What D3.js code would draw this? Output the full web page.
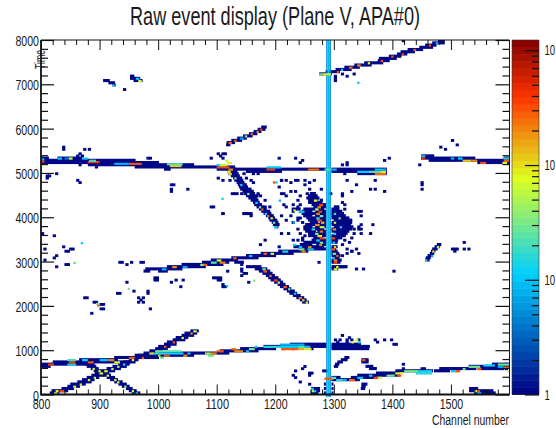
<!DOCTYPE html>
<html>
<head>
<meta charset="utf-8">
<script src="https://cdn.jsdelivr.net/npm/d3@7"></script>
<style>
  html, body { margin: 0; padding: 0; background: #fff; overflow: hidden; }
  text { font-family: "Liberation Sans", sans-serif; fill: #1a1a1a; }
</style>
</head>
<body>
<div id="my_dataviz"></div>
<script>
// tick labels
var channelTicks = [800, 900, 1000, 1100, 1200, 1300, 1400, 1500];
var timeTicks = [0, 1000, 2000, 3000, 4000, 5000, 6000, 7000, 8000];
var adcLabels = [[1, "1"], [10, "10"], [100, "10"], [1000, "10"]];

// low adc runs: [time, channel from, channel to]
var topRightTrack = [[7200,1275,1295],[7250,1286,1309],[7300,1303,1329],[7350,1318,1343],[7400,1335,1363],[7450,1352,1383],[7500,1375,1394],[7550,1377,1406],[7600,1394,1414],[7650,1408,1424],[7700,1414,1437],[7750,1426,1451],[7800,1446,1468],[7850,1456,1474],[7900,1468,1488],[7950,1478,1488]];
var upperMidTrack = [[5600,1116,1122],[5650,1117,1130],[5700,1125,1142],[5750,1135,1150],[5800,1145,1160],[5850,1155,1168],[5900,1163,1175],[5950,1170,1182],[6000,1176,1184]];
var smallTracks = [[7150,952,958],[7100,952,968],[7050,958,972],[7050,906,916],[7000,915,925],[6950,922,926]];
var line5200 = [[5300,800,812],[5300,828,870],[5250,800,960],[5200,800,1000],[5150,880,1060],[5100,960,1130],[5050,1010,1020],[5050,1100,1286],[5000,1150,1210],[5050,1296,1389],[5000,1296,1389],[4950,1340,1389]];
var line5400 = [[5350,1449,1470],[5300,1449,1540],[5250,1462,1530],[5250,1530,1600],[5200,1545,1600],[5300,1590,1600]];
var diagonalDown = [[5050,1118,1132],[5000,1118,1134],[4950,1120,1136],[4900,1124,1138],[4850,1128,1142],[4800,1130,1144],[4750,1134,1146],[4700,1136,1150],[4650,1138,1152],[4600,1140,1158],[4550,1144,1162],[4500,1146,1164],[4450,1150,1170],[4400,1154,1168],[4350,1158,1170],[4300,1162,1172],[4250,1164,1176],[4200,1168,1180],[4150,1172,1184],[4100,1176,1190],[4050,1180,1192],[4000,1184,1196],[3950,1188,1198],[3900,1190,1202],[3850,1194,1204],[3800,1196,1206],[3750,1198,1204]];
var track3000 = [[2750,975,985],[2750,1000,1015],[2800,978,1040],[2850,1015,1080],[2900,1040,1110],[2950,1075,1120],[2950,1130,1145],[3000,1090,1135],[3050,1125,1170],[3100,1150,1200],[3150,1175,1230],[3200,1205,1255],[3250,1240,1285]];
var diagonal2400 = [[2850,1150,1175],[2800,1165,1185],[2750,1172,1190],[2700,1178,1194],[2650,1184,1198],[2600,1188,1204],[2550,1192,1208],[2500,1198,1212],[2450,1204,1216],[2400,1208,1222],[2350,1214,1226],[2300,1220,1232],[2250,1224,1236],[2200,1230,1242],[2150,1236,1248],[2100,1242,1252],[2050,1246,1256]];
var line800 = [[600,800,815],[650,800,880],[700,820,880],[700,880,950],[750,865,930],[800,925,1000],[850,960,1060],[900,1000,1120],[950,1105,1170],[1000,1140,1200],[1050,1180,1286],[1100,1225,1286],[1050,1296,1360],[1100,1296,1345],[1000,1296,1359]];
var diagonalUp = [[0,815,830],[50,818,845],[100,835,855],[150,845,865],[200,850,875],[250,862,885],[300,870,890],[350,878,898],[400,886,905],[450,892,915],[500,905,925],[550,912,935],[600,922,945],[650,932,950],[700,940,960],[750,950,965],[800,955,975],[850,965,990],[900,975,995],[950,985,1005],[1000,995,1015],[1050,1000,1020],[1100,1010,1030],[1150,1015,1030],[1200,1025,1045],[1250,1030,1050],[1300,1040,1060],[1350,1045,1065],[1400,1055,1068]];
var diagonalCross = [[650,875,890],[600,878,893],[550,885,897],[500,890,905],[450,895,912],[400,905,918],[350,912,925],[300,918,930],[250,925,938],[200,932,945],[150,938,950],[100,945,955],[50,950,962],[0,955,968]];
var line400 = [[300,1296,1343],[350,1296,1310],[350,1329,1372],[400,1340,1411],[450,1372,1411],[500,1405,1468],[500,1471,1497],[550,1480,1542],[600,1530,1599],[550,1551,1590],[650,1570,1599]];
var bottomBlobs = [[50,1531,1571],[0,1540,1575],[100,1531,1545],[50,1261,1275],[100,1261,1275],[0,1261,1272],[150,1347,1353],[100,1346,1352],[200,1347,1356],[650,1302,1308],[700,1306,1314],[750,1312,1322],[800,1318,1325],[600,1300,1306],[700,1347,1358],[750,1347,1358],[600,1354,1366],[550,1360,1372],[0,1283,1285],[100,1283,1285],[200,1283,1285],[0,1296,1298],[100,1296,1298],[200,1296,1298]];
var blobRows = [[4500,1259,1268],[4450,1256,1271],[4400,1253,1274],[4350,1256,1272],[4350,1276,1280],[4300,1256,1279],[4250,1262,1285],[4200,1265,1285],[4200,1300,1308],[4150,1228,1242],[4150,1248,1282],[4150,1296,1308],[4100,1245,1262],[4100,1268,1285],[4100,1296,1313],[4050,1245,1285],[4050,1296,1316],[4000,1248,1262],[4000,1268,1285],[4000,1296,1319],[3950,1253,1285],[3950,1296,1325],[3900,1256,1270],[3900,1276,1285],[3900,1300,1330],[3850,1259,1272],[3850,1276,1285],[3850,1296,1330],[3800,1251,1285],[3800,1296,1328],[3750,1248,1262],[3750,1268,1285],[3750,1300,1332],[3700,1248,1282],[3700,1296,1330],[3650,1251,1268],[3650,1272,1285],[3650,1296,1325],[3600,1256,1285],[3600,1300,1322],[3550,1256,1285],[3550,1296,1319],[3500,1265,1280],[3500,1296,1313],[3450,1262,1285],[3450,1296,1306],[3400,1248,1285],[3400,1296,1305],[3350,1242,1262],[3350,1270,1285],[3300,1231,1282],[3300,1296,1305],[3250,1296,1302],[3200,1296,1305],[3150,1296,1308],[3100,1296,1310],[3050,1298,1308],[3000,1296,1312],[2950,1296,1310],[2850,1296,1322],[2800,1296,1306]];
var rightDiagonal = [[3000,1456,1462],[3050,1457,1464],[3100,1460,1468],[3150,1464,1470],[3200,1466,1472],[3250,1468,1476],[3300,1472,1480],[3350,1476,1482]];

// single low adc cells: [time, channel]
var scatterCells = [[4856,1100],[4841,1111],[4804,1123],[4992,1145],[5029,1154],[4992,1160],[4954,1171],[4879,1148],[4841,1157],[4766,1162],[4691,1205],[4804,1211],[4804,1219],[4540,1208],[4465,1219],[4578,1234],[4804,1239],[4804,1248],[4841,1265],[4616,1259],[4465,1242],[4277,1228],[4127,1231],[4240,1239],[4240,1219],[4277,1214],[4202,1191],[4352,1182],[4202,1180],[4465,1174],[4540,1168],[4014,1248],[3976,1236],[3939,1219],[4014,1208],[4052,1146],[4052,1150],[4052,1154],[4052,1158],[4503,1140],[4503,1128],[4052,1108],[3488,1182],[3375,1174],[3337,1205],[3638,1208],[3600,1222],[3488,1228],[3450,1236],[3525,1245],[3713,1239],[3864,1231],
  [3826,1346],[3826,1365],[3713,1346],[3638,1363],[3638,1346],[3713,1332],[3299,1338],[3224,1329],[3149,1312],[3186,1323],[2848,1338],[2825,1349],[2870,1311],[2870,1315],[2870,1319],[2795,1400],[3299,1500],[3299,1505],[3299,1511],[3247,1505],[3412,1521],[3277,1521],[3277,1529],[2961,1272],
  [3638,801],[3577,820],[3262,807],[3149,824],[3074,820],[3000,804],[2886,824],[2946,841],[2946,846],[3337,838],[3224,847],[3224,843],[3299,852],[3280,848],[2961,932],[2940,945],[2961,955],[2961,975],[2990,936],[2990,968],[2510,946],[2322,958],[2284,929],[2284,933],[2284,983],[2334,983],[2134,969],[2171,965],[2171,973],[2095,965],[2095,973],[1946,984],[2171,875],[2171,879],[2096,892],[2096,888],[2021,906],[2021,902],[1908,903],[1908,907],[1810,884],
  [2562,995],[2562,999],[2610,995],[2610,999],[2547,1020],[2585,1028],[2585,1042],[2420,1037],[2622,1094],[2622,1098],[2622,1102],[2622,1106],[2575,1100],[2575,1104],[2420,1108],[2420,1112],[2470,1110],[2848,1140],[2760,1140],[2660,1142],[2900,1140],[2710,1146],[2547,1154],[2750,1118],[2700,1150],
  [5558,838],[5505,838],[5505,872],[5520,881],[5407,864],[5357,868],[5357,860],[5309,983],[5309,987],[4918,810],[4918,814],[4978,824],[4870,810],[4820,862],[4770,864],[4730,1023],[4730,1027],[4580,1022],[4630,1022],[4633,1049],[4204,1091],[4204,1095],[4050,1108],[4050,1145],[4050,1149],[4050,1153],[4000,1157],[4505,1125],[4505,1133],[5106,892],[5154,864],[5309,1088],[5400,1100],[5350,1105],[5309,1110],[5420,1108],[5420,1114],[5160,1320],[5210,1320],[5170,1314],[4843,1369],[5160,1446],[5573,1480],[5545,1488],[5708,1503],[5633,1509],[4753,1451],[4700,1451],[4618,1450],[5317,1392],[5280,1386],[7964,1417],[4957,1318],[5204,1241],[5300,1232],[5250,1246],[5300,1206],[4843,1320],[4714,1337],[4618,1363],[4618,1370],[4580,1384],[4542,1295],[4542,1315],[4580,1329],[4618,1278],[4768,1258],[4720,1250],[4806,1235],[4760,1224],[4806,1209],[4500,1255],[4580,1226],[4540,1212],[4130,1340],[4031,1346],[4130,1346],[4450,1312],[4166,1318],
  [7062,1301],[7110,1301],[7235,1335],[7212,1312],[7160,1320],[6850,940],[7170,1300],
  [1200,1300],[1200,1310],[1200,1320],[1200,1330],[1200,1340],[1150,1305],[1150,1320],[1320,1314],[1270,1325],[1230,1370],[1170,1375],[1230,1385],[1230,1397],[1118,1400],[1118,1404],[1000,1214],[1000,1228],[1000,1260],[1090,1222],
  [515,1233],[550,1247],[620,1250],[400,1258],[455,1256],[455,1262],[400,1230],[365,1235],[255,1242],[210,1256],[540,1282],[540,1285],[590,1417],[650,1417],[570,1451],[590,1455],[650,1594],[560,1594],
  [4250,1240],[4350,1236],[4000,1226],[3950,1240],[3900,1236],[3850,1244],[3600,1240],[3550,1248],[3450,1244],[4300,1312],[4250,1318],[3750,1340],[3700,1340],[3600,1334],[3500,1328],[3450,1318],[3400,1326],[3350,1312],[3250,1320],[3200,1330],[3150,1340]];

// hot cells: [time, channel from, channel to, adc]
var hotCells = [
  [5230,800,806,400],[5280,800,806,8],[5300,828,836,10],[5300,840,850,4],[5300,848,854,70],[5300,870,880,12],[5220,880,900,350],[5250,882,894,20],[5180,950,972,300],[5180,925,950,8],[5130,1020,1040,120],[5170,1015,1042,25],[5100,1100,1122,350],[5150,1100,1112,10],[5150,1105,1118,60],[5050,1185,1200,400],[5100,1185,1210,10],[5050,1120,1128,200],[5200,1118,1126,90],[5250,1114,1120,60],[5000,1118,1124,70],
  [5050,1256,1275,250],[5050,1296,1305,8],[5000,1340,1360,12],[5000,1360,1389,25],[4950,1370,1389,250],[5000,1380,1389,90],[5050,1370,1389,10],
  [5350,1449,1456,10],[5300,1450,1456,400],[5300,1500,1506,8],[5300,1512,1520,10],[5250,1520,1535,120],[5250,1535,1545,200],[5200,1550,1560,300],[5300,1590,1600,15],[5250,1590,1600,300],[5200,1588,1596,70],
  [5650,1120,1126,300],[5700,1130,1134,250],[5750,1140,1146,8],[5800,1148,1152,40],[5850,1158,1162,300],[5900,1168,1172,200],[5950,1174,1178,350],[7050,966,972,80],[7100,962,968,10],[6950,922,926,12],
  [7200,1280,1286,120],[7200,1275,1280,25],[7250,1305,1309,300],[7300,1312,1316,10],[7350,1326,1332,250],[7400,1340,1346,200],[7450,1358,1362,80],[7500,1380,1384,300],[7600,1398,1402,300],[7650,1416,1420,350],[7750,1436,1440,250],[7850,1462,1466,300],[7900,1474,1478,10],
  [4950,1120,1126,120],[4850,1130,1134,30],[4700,1140,1144,10],[4500,1152,1156,40],[4300,1166,1170,12],[4200,1172,1176,30],[4150,1176,1180,300],[4050,1182,1186,12],[4000,1186,1190,250],[3950,1192,1196,70],[3850,1196,1200,30],[3750,1198,1204,15],
  [4760,1196,1200,350],[4760,1200,1204,10],[4350,1206,1210,8],[4127,1231,1235,70],[3860,1230,1234,10],[4090,1240,1244,8],
  [2800,1006,1014,8],[2850,1024,1032,200],[2850,1042,1050,8],[2900,1072,1078,40],[2900,1078,1084,300],[2950,1090,1100,25],[2950,1105,1115,200],[3000,1100,1108,60],[3050,1128,1134,300],[3100,1155,1161,10],[3150,1180,1186,300],[3150,1192,1198,80],[3200,1212,1222,15],[3250,1255,1266,10],[3200,1245,1252,200],[3250,1240,1250,30],
  [2800,1178,1184,30],[2750,1180,1186,300],[2650,1190,1194,250],[2550,1198,1204,350],[2500,1204,1208,70],[2400,1214,1220,300],[2350,1222,1226,30],[2250,1232,1236,10],[2150,1240,1246,250],[2100,1246,1250,100],[2050,1252,1256,70],
  [3100,1466,1470,8],[3300,1476,1480,70],[3000,1456,1460,15],[3200,1468,1472,100],
  [2360,948,952,30],[2946,855,860,30],[3389,868,872,10],[4390,1108,1112,12],[1983,896,900,350],[2020,894,898,30],[2420,1116,1120,12],[2547,1162,1166,30],[7009,1340,1344,10],
  [650,812,822,350],[650,845,860,15],[700,848,858,350],[750,845,860,20],[700,880,890,300],[750,870,880,12],[750,900,915,10],[750,915,925,200],[700,925,935,80],[800,950,960,300],[850,1000,1004,100],[800,1003,1010,30],[850,1010,1020,300],
  [900,990,1010,15],[950,1000,1040,25],[900,1010,1043,12],[850,1043,1050,200],[900,1050,1055,10],[900,1080,1090,50],[850,1085,1095,30],[950,1100,1112,300],[900,1090,1100,200],[1000,1125,1133,250],[950,1130,1145,200],[950,1150,1155,12],[1000,1155,1165,30],[1050,1165,1170,10],[1050,1180,1210,15],[1050,1250,1260,10],
  [1050,1208,1250,12],[1100,1208,1250,8],[1000,1210,1240,300],[1000,1240,1250,150],[1050,1240,1250,25],[1000,1250,1262,90],[1150,1330,1334,80],
  [50,825,830,80],[50,832,840,350],[0,822,828,60],[150,855,860,70],[200,866,870,70],[300,880,884,80],[350,890,894,60],[450,900,906,70],[500,908,914,70],[550,920,924,70],[600,930,934,60],[650,940,944,15],[750,955,959,70],[800,972,976,300],[900,985,992,100],[950,995,1001,30],[1050,1010,1014,300],[1150,1025,1029,300],[1250,1040,1044,70],[1350,1055,1059,200],[1400,1060,1066,60],
  [550,888,892,70],[500,898,902,80],[400,912,916,70],[300,925,929,70],[250,930,934,70],[150,942,946,40],[50,955,959,70],[0,960,966,15],
  [330,1290,1300,300],[350,1296,1304,25],[300,1304,1316,15],[300,1316,1322,8],[300,1326,1336,250],[350,1340,1350,10],[400,1360,1366,10],[350,1368,1376,350],[350,1376,1382,70],[400,1390,1404,30],[450,1405,1418,80],[400,1408,1415,350],[500,1420,1445,30],[500,1445,1468,12],[450,1440,1468,15],[500,1500,1508,10],[500,1508,1516,350],[550,1520,1525,30],[550,1545,1552,300],[600,1530,1550,30],[630,1555,1575,12],[650,1580,1599,30],[600,1580,1590,8],[580,1590,1599,200],[500,1596,1600,60],
  [50,1540,1545,80],[50,1545,1550,350],[0,1545,1552,12],[100,1261,1266,12],[50,1262,1266,70],[50,1266,1270,12],[750,1348,1354,300],[1200,1336,1342,80],[1150,1342,1346,10],
  [4350,1266,1272,80],[4250,1275,1282,350],[4200,1272,1278,200],[4150,1268,1274,70],[4100,1274,1280,350],[4050,1270,1276,200],[4000,1276,1282,30],[3950,1270,1276,15],[3900,1272,1280,350],[3850,1278,1284,150],[3800,1268,1276,200],[3750,1276,1284,70],[3700,1262,1268,15],[3650,1276,1282,250],[3600,1268,1274,30],[3550,1272,1280,90],[3500,1276,1284,350],[3450,1270,1276,12],[3400,1276,1282,30],[3350,1275,1280,200],[4100,1244,1250,12],[3300,1256,1262,200],[3300,1240,1246,10],[3350,1230,1236,10],[3700,1298,1304,200],[3600,1298,1304,15],[3850,1300,1304,60],[3500,1296,1302,350],[3400,1298,1302,12],[3300,1300,1304,100],[3250,1296,1302,300],[3150,1298,1304,30],[3100,1304,1308,300],[3050,1298,1302,12],[3000,1300,1306,200],[2950,1300,1306,350],[2850,1304,1308,80],[2800,1300,1306,70],[3750,1310,1314,12],[3950,1308,1312,30],[4050,1300,1304,20]];

// the hot beam: [channel from, channel to, adc]
var beamColumns = [[1287,1289,5],[1289,1293,9],[1293,1295,5]];
var crossingCells = [[7200,1284,1295,60],[5050,1284,1295,20],[330,1284,1295,300]];
var baseAdc = 1.1;

// ROOT rainbow palette stops
var paletteStops = [0, 0.34, 0.61, 0.84, 1];
var paletteColors = ["#000082", "#00cfff", "#deff1f", "#ff3300", "#820000"];

var width = 556, height = 428;
var margin = {top: 40, left: 41, right: 509.5, bottom: 394.5};

var svg = d3.select("#my_dataviz").append("svg")
  .attr("width", width)
  .attr("height", height)
  .style("display", "block");

var x = d3.scaleLinear().domain([800, 1600]).range([margin.left, margin.right]);
var y = d3.scaleLinear().domain([0, 8000]).range([margin.bottom, margin.top]);
var z = d3.scaleLog().domain([1, 1230]).range([394.5, 40]);
var palette = d3.scaleLinear().domain(paletteStops).range(paletteColors).interpolate(d3.interpolateRgb);
var zFrac = d3.scaleLog().domain([1, 1230]).range([0, 1]).clamp(true);
function color(v) { return palette(zFrac(v)); }

svg.append("clipPath").attr("id", "clip")
  .append("rect")
  .attr("x", margin.left).attr("y", margin.top)
  .attr("width", margin.right - margin.left).attr("height", margin.bottom - margin.top + 3);

var cells = svg.append("g").attr("clip-path", "url(#clip)");

// tall and wide are the drawn size of a bin, low adc bins bleed a bit
function addCell(t, c0, c1, v, tall, wide) {
  cells.append("rect")
    .attr("x", x(c0))
    .attr("y", y(t + tall))
    .attr("width", x(c1 + wide) - x(c0))
    .attr("height", y(t) - y(t + tall))
    .attr("fill", color(v));
}

var navyRows = [].concat(topRightTrack, upperMidTrack, smallTracks, line5200, line5400, diagonalDown, track3000, diagonal2400, line800, diagonalUp, diagonalCross, line400, bottomBlobs, blobRows, rightDiagonal);
navyRows.forEach(function(d) { addCell(d[0], d[1], d[2], baseAdc, 70, 1.5); });

scatterCells.forEach(function(d) {
  var t = Math.floor(d[0] / 50) * 50, c = Math.floor(d[1] / 4) * 4;
  addCell(t, c, c + 4, baseAdc, 65, 1.5);
});

hotCells.forEach(function(d) { addCell(d[0], d[1], d[2], d[3], 50, 0); });

// beam goes on top of the tracks it crosses
beamColumns.forEach(function(d) {
  cells.append("rect")
    .attr("x", x(d[0]))
    .attr("y", y(8000))
    .attr("width", x(d[1]) - x(d[0]))
    .attr("height", y(-60) - y(8000))
    .attr("fill", color(d[2]));
});
crossingCells.forEach(function(d) { addCell(d[0], d[1], d[2], d[3], 50, 0); });

// frame and ticks
function styleTicks(g, sw) {
  g.select(".domain").remove();
  g.selectAll("line").attr("stroke", "#111").attr("stroke-width", sw);
}
var channelMinor = d3.range(800, 1601, 20).filter(function(d) { return d % 100 != 0; });
var timeMinor = d3.range(0, 8001, 200).filter(function(d) { return d % 1000 != 0; });

svg.append("g").attr("transform", "translate(0," + margin.bottom + ")")
  .call(d3.axisBottom(x).tickValues(channelMinor).tickSizeInner(-5).tickFormat(""))
  .call(styleTicks, 1);
svg.append("g").attr("transform", "translate(0," + margin.top + ")")
  .call(d3.axisTop(x).tickValues(channelMinor).tickSizeInner(-5).tickFormat(""))
  .call(styleTicks, 1);
svg.append("g").attr("transform", "translate(0," + margin.top + ")")
  .call(d3.axisTop(x).tickValues(channelTicks).tickSizeInner(-10).tickFormat(""))
  .call(styleTicks, 1);
var xAxis = svg.append("g").attr("transform", "translate(0," + margin.bottom + ")")
  .call(d3.axisBottom(x).tickValues(channelTicks).tickSizeInner(-10).tickPadding(3).tickFormat(d3.format("d")))
  .call(styleTicks, 1);

svg.append("g").attr("transform", "translate(" + margin.left + ",0)")
  .call(d3.axisLeft(y).tickValues(timeMinor).tickSizeInner(-7).tickFormat(""))
  .call(styleTicks, 1.2);
svg.append("g").attr("transform", "translate(" + margin.right + ",0)")
  .call(d3.axisRight(y).tickValues(timeMinor).tickSizeInner(-7).tickFormat(""))
  .call(styleTicks, 1.2);
svg.append("g").attr("transform", "translate(" + margin.right + ",0)")
  .call(d3.axisRight(y).tickValues(timeTicks).tickSizeInner(-14).tickFormat(""))
  .call(styleTicks, 1.2);
var yAxis = svg.append("g").attr("transform", "translate(" + margin.left + ",0)")
  .call(d3.axisLeft(y).tickValues(timeTicks).tickSizeInner(-13).tickPadding(2).tickFormat(d3.format("d")))
  .call(styleTicks, 1.2);

function squeeze(sel) {
  sel.attr("font-size", 15.5).attr("font-family", null)
    .attr("lengthAdjust", "spacingAndGlyphs")
    .attr("textLength", function() { return this.textContent.length * 5.9; });
}
xAxis.selectAll("text").call(squeeze).attr("dy", "0.75em");
yAxis.selectAll("text").call(squeeze).attr("dy", "0.36em");

svg.append("path")
  .attr("d", "M" + margin.left + "," + margin.top + "H" + margin.right + "V" + margin.bottom)
  .attr("fill", "none").attr("stroke", "#111").attr("stroke-width", 1);
svg.append("path")
  .attr("d", "M" + margin.left + "," + margin.top + "V" + margin.bottom + "H" + margin.right)
  .attr("fill", "none").attr("stroke", "#111").attr("stroke-width", 1.8);

// colour bar
var barX0 = 512, barX1 = 539;
var barSteps = d3.range(0, 1, 1 / 50);
var fracY = d3.scaleLinear().domain([0, 1]).range([394.5, 40]);
svg.append("g").selectAll("rect").data(barSteps).enter().append("rect")
  .attr("x", barX0)
  .attr("width", barX1 - barX0)
  .attr("y", function(d) { return fracY(d + 1 / 50); })
  .attr("height", function(d) { return fracY(d) - fracY(d + 1 / 50) + 0.5; })
  .attr("fill", function(d) { return palette(d + 1 / 100); });
svg.append("path")
  .attr("d", "M" + barX0 + ",40H" + barX1 + "V394.5H" + barX0 + "Z")
  .attr("fill", "none").attr("stroke", "#333").attr("stroke-width", 0.6);

var zMinor = [];
[1, 10, 100, 1000].forEach(function(dec) {
  d3.range(2, 10).forEach(function(m) { if (dec * m < 1230) zMinor.push(dec * m); });
});
svg.append("g").attr("transform", "translate(" + barX1 + ",0)")
  .call(d3.axisRight(z).tickValues(zMinor).tickSizeInner(-7).tickFormat(""))
  .call(styleTicks, 1.2);
svg.append("g").attr("transform", "translate(" + barX1 + ",0)")
  .call(d3.axisRight(z).tickValues(adcLabels.map(function(d) { return d[0]; })).tickSizeInner(-14).tickFormat(""))
  .call(styleTicks, 1.2);
// scaled rather than textLength so the "10" stays inside the window
adcLabels.forEach(function(d) {
  svg.append("text")
    .attr("transform", "translate(544.5," + (z(d[0]) + 5) + ") scale(0.62,1)")
    .attr("font-size", 15.5)
    .text(d[1]);
});

// titles
svg.append("text")
  .attr("x", 130).attr("y", 25)
  .attr("font-size", 25)
  .attr("lengthAdjust", "spacingAndGlyphs")
  .attr("textLength", 290)
  .text("Raw event display (Plane V, APA#0)");
svg.append("text")
  .attr("x", 432).attr("y", 425)
  .attr("font-size", 14)
  .attr("lengthAdjust", "spacingAndGlyphs")
  .attr("textLength", 77)
  .text("Channel number");
svg.append("text")
  .attr("transform", "translate(45,69) rotate(-90)")
  .attr("font-size", 14)
  .attr("lengthAdjust", "spacingAndGlyphs")
  .attr("textLength", 19)
  .text("Time");
</script>
</body>
</html>
